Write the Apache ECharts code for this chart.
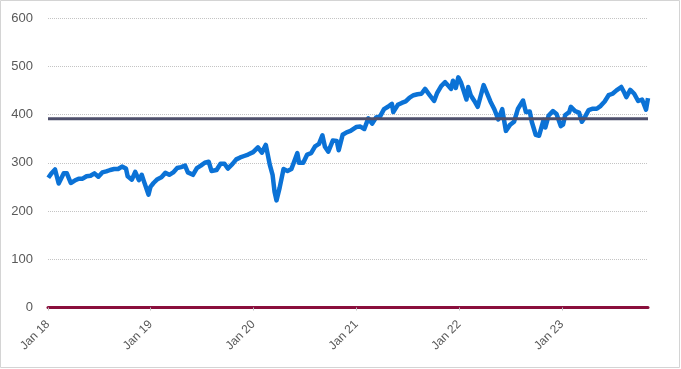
<!DOCTYPE html>
<html>
<head>
<meta charset="utf-8">
<script src="https://cdn.jsdelivr.net/npm/echarts@6/dist/echarts.min.js"></script>
<style>
html,body{margin:0;padding:0;background:#fff;}
#c{width:681px;height:369px;}
</style>
</head>
<body>
<div id="c"></div>
<script>
// Price series (dates and closing values)
const dates = [
'2018-01-02','2018-01-12','2018-01-26','2018-02-08','2018-02-26','2018-03-09','2018-03-23','2018-04-06','2018-04-20','2018-05-04','2018-05-18','2018-06-01','2018-06-15','2018-06-29','2018-07-13','2018-07-27','2018-08-10','2018-08-24','2018-09-07','2018-09-21','2018-10-05','2018-10-11','2018-10-26','2018-11-07','2018-11-20','2018-11-30','2018-12-07','2018-12-14','2018-12-24','2018-12-31',
'2019-01-11','2019-01-25','2019-02-08','2019-02-22','2019-03-08','2019-03-22','2019-04-05','2019-04-19','2019-05-03','2019-05-13','2019-05-31','2019-06-14','2019-06-28','2019-07-12','2019-07-26','2019-08-05','2019-08-23','2019-09-06','2019-09-20','2019-10-02','2019-10-18','2019-11-01','2019-11-15','2019-11-29','2019-12-13','2019-12-31',
'2020-01-17','2020-01-31','2020-02-14','2020-02-19','2020-02-28','2020-03-09','2020-03-16','2020-03-23','2020-04-03','2020-04-17','2020-05-01','2020-05-15','2020-06-05','2020-06-11','2020-06-26','2020-07-10','2020-07-24','2020-08-07','2020-08-21','2020-09-02','2020-09-11','2020-09-23','2020-10-09','2020-10-23','2020-10-30','2020-11-13','2020-11-27','2020-12-11','2020-12-31',
'2021-01-15','2021-01-29','2021-02-12','2021-02-26','2021-03-12','2021-03-26','2021-04-09','2021-04-23','2021-05-07','2021-05-12','2021-05-28','2021-06-11','2021-06-25','2021-07-09','2021-07-23','2021-08-06','2021-08-20','2021-09-02','2021-09-17','2021-10-04','2021-10-15','2021-10-29','2021-11-12','2021-11-26','2021-12-03','2021-12-10','2021-12-20','2021-12-29',
'2022-01-07','2022-01-14','2022-01-27','2022-02-02','2022-02-11','2022-02-24','2022-03-08','2022-03-29','2022-04-08','2022-04-22','2022-05-06','2022-05-20','2022-06-03','2022-06-16','2022-06-30','2022-07-15','2022-07-29','2022-08-16','2022-08-26','2022-09-09','2022-09-16','2022-09-30','2022-10-12','2022-10-28','2022-11-03','2022-11-15','2022-11-30','2022-12-13','2022-12-28',
'2023-01-05','2023-01-13','2023-01-27','2023-02-02','2023-02-17','2023-03-03','2023-03-13','2023-03-24','2023-04-06','2023-04-21','2023-05-05','2023-05-19','2023-06-02','2023-06-16','2023-06-30','2023-07-14','2023-07-31','2023-08-11','2023-08-18','2023-09-01','2023-09-15','2023-09-29','2023-10-13','2023-10-27','2023-11-03'
];
const prices = [
269,277,286,257,278,278,258,263,267,267,272,273,278,271,280,282,285,287,287,292,288,272,265,281,264,275,263,260,234,250,
258,266,270,279,275,280,289,291,294,280,275,289,294,300,302,283,285,298,298,288,297,307,311,314,317,322,
332,321,337,338,296,275,240,222,248,287,283,287,320,300,300,317,320,334,339,357,333,323,346,345,326,358,363,366,374,
375,370,392,381,394,396,411,416,422,405,420,424,427,435,440,442,443,453,441,428,445,459,467,458,453,470,455,477,
467,465,431,457,440,428,416,461,447,427,411,390,411,366,378,385,412,429,405,406,385,358,356,389,373,398,407,401,376,
379,399,405,416,407,404,385,395,409,412,412,418,427,440,443,450,457,445,436,451,443,428,431,410,434
];
const referenceLevel = 391;
const yTicks = [0,100,200,300,400,500,600];
const xTickLabels = ['Jan 18','Jan 19','Jan 20','Jan 21','Jan 22','Jan 23'];
const xTickDates = ['2018-01-01','2019-01-01','2020-01-01','2021-01-01','2022-01-01','2023-01-01'];

const ts = s => { const p = s.split('-'); return Date.UTC(+p[0], +p[1]-1, +p[2]); };
const seriesData = dates.map((d,i) => [ts(d), prices[i]]);
const xMin = ts(xTickDates[0]);
const xMax = ts(dates[dates.length-1]);
const tickVals = xTickDates.map(ts);
const labelMap = {};
tickVals.forEach((v,i) => labelMap[v] = xTickLabels[i]);

const chart = echarts.init(document.getElementById('c'), null, {renderer:'canvas'});
chart.setOption({
  animation:false,
  backgroundColor:'#fff',
  grid:{left:48, right:33, top:18, bottom:61.5, containLabel:false},
  xAxis:{
    type:'value', min:xMin, max:xMax,
    splitLine:{show:false},
    axisLine:{show:true, onZero:false, lineStyle:{color:'#8a0f3c', width:3}},
    axisTick:{show:true, customValues:tickVals, length:3, lineStyle:{color:'#c0c0c0'}},
    axisLabel:{
      customValues:tickVals, rotate:45, margin:15,
      color:'#595959', fontFamily:'Liberation Sans', fontSize:12,
      formatter: v => labelMap[v] || ''
    }
  },
  yAxis:{
    type:'value', min:yTicks[0], max:yTicks[yTicks.length-1], interval:100,
    axisLine:{show:false}, axisTick:{show:false},
    axisLabel:{color:'#595959', fontFamily:'Liberation Sans', fontSize:13, margin:15},
    splitLine:{show:true, lineStyle:{color:'#c4c4c4', type:[1,1], width:1}}
  },
  graphic:[{type:'rect', shape:{x:0.5,y:0.5,width:679,height:367}, style:{fill:null, stroke:'#d4d4d4', lineWidth:1}, z:-1}],
  series:[
    {type:'line', data:seriesData, showSymbol:false, lineStyle:{color:'#0b72d6', width:4.5, join:'round'}, z:2},
    {type:'line', data:[[xMin, referenceLevel],[xMax, referenceLevel]], showSymbol:false, lineStyle:{color:'#4e4f6b', width:3}, z:3}
  ]
});
</script>
</body>
</html>
